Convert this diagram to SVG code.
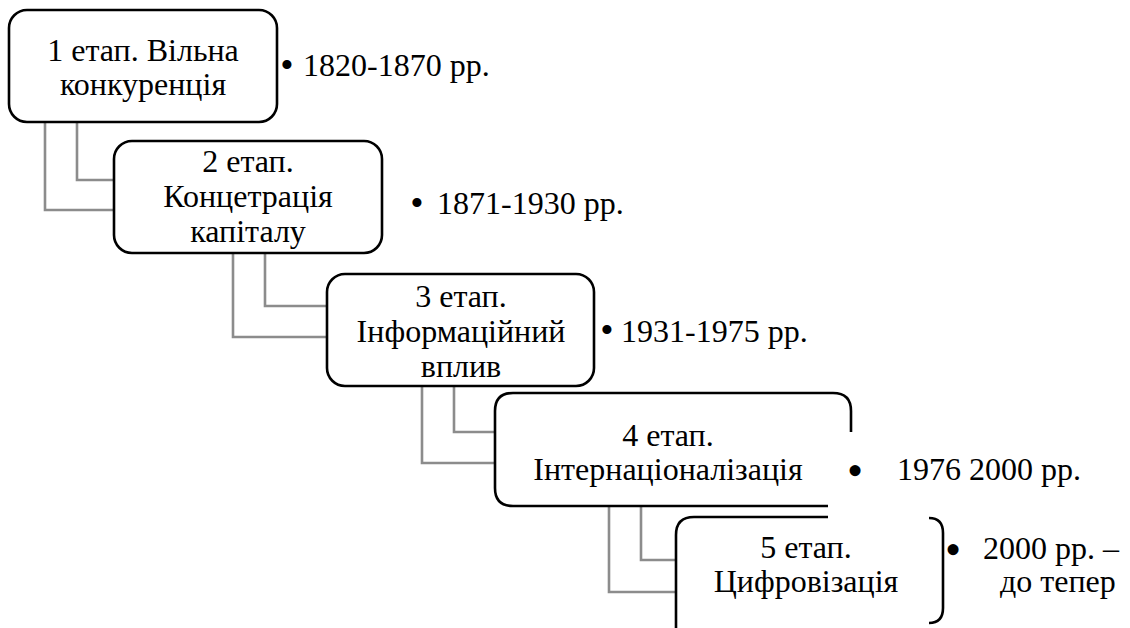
<svg xmlns="http://www.w3.org/2000/svg" width="1130" height="628" viewBox="0 0 1130 628">
<style>
.box{fill:#fff;stroke:#000;stroke-width:2.6}
.con{fill:none;stroke:#8c8c8c;stroke-width:2.6}
.t{font-family:'Liberation Serif','Times New Roman',serif;font-size:32px;fill:#000}
.c{text-anchor:middle}
.b{font-size:38px;text-anchor:middle}
.bb{font-size:46px;text-anchor:middle}
</style>
<rect width="1130" height="628" fill="#fff"/>
<g id="connectors">
<path class="con" d="M45,122 V210 H114 M77,122 V180 H114"/>
<path class="con" d="M233,253 V337 H327 M265,253 V306 H327"/>
<path class="con" d="M422,386 V463 H495 M454,386 V432 H495"/>
<path class="con" d="M609,506 V592 H676 M641,506 V560 H676"/>
</g>
<g id="stage1" class="t">
<rect class="box" x="9" y="10" width="268" height="112" rx="18"/>
<text class="c" x="143" y="61">1 етап. Вільна</text>
<text class="c" x="143" y="95">конкуренція</text>
<text x="287" y="78" class="b">•</text>
<text x="303" y="76">1820-1870 рр.</text>
</g>
<g id="stage2" class="t">
<rect class="box" x="114" y="141" width="268" height="112" rx="18"/>
<text class="c" x="248" y="172">2 етап.</text>
<text class="c" x="248" y="207">Концетрація</text>
<text class="c" x="248" y="242">капіталу</text>
<text x="417" y="216" class="b">•</text>
<text x="437" y="214">1871-1930 рр.</text>
</g>
<g id="stage3" class="t">
<rect class="box" x="327" y="274" width="267" height="112" rx="18"/>
<text class="c" x="461" y="307">3 етап.</text>
<text class="c" x="461" y="342">Інформаційний</text>
<text class="c" x="461" y="377">вплив</text>
<text x="607" y="343" class="b">•</text>
<text x="621" y="342">1931-1975 рр.</text>
</g>
<g id="stage4" class="t">
<path class="box" d="M495,411 Q495,393 513,393 H833 Q851,393 851,411 V432"/>
<path class="box" d="M495,411 V488 Q495,506 513,506 H828"/>
<text class="c" x="668" y="446">4 етап.</text>
<text class="c" x="668" y="480">Інтернаціоналізація</text>
<text x="855" y="486" class="bb">•</text>
<text x="897" y="480">1976 2000 рр.</text>
</g>
<g id="stage5" class="t">
<path class="box" d="M676,640 V535 Q676,517 694,517 H828"/>
<path class="box" fill="none" d="M929,518 Q943,518 943,533 V608 Q943,623 929,623"/>
<text class="c" x="806" y="558">5 етап.</text>
<text class="c" x="806" y="592">Цифровізація</text>
<text x="953" y="565" class="bb">•</text>
<text x="983" y="559">2000 рр. –</text>
<text x="1000" y="592">до тепер</text>
</g>
</svg>
